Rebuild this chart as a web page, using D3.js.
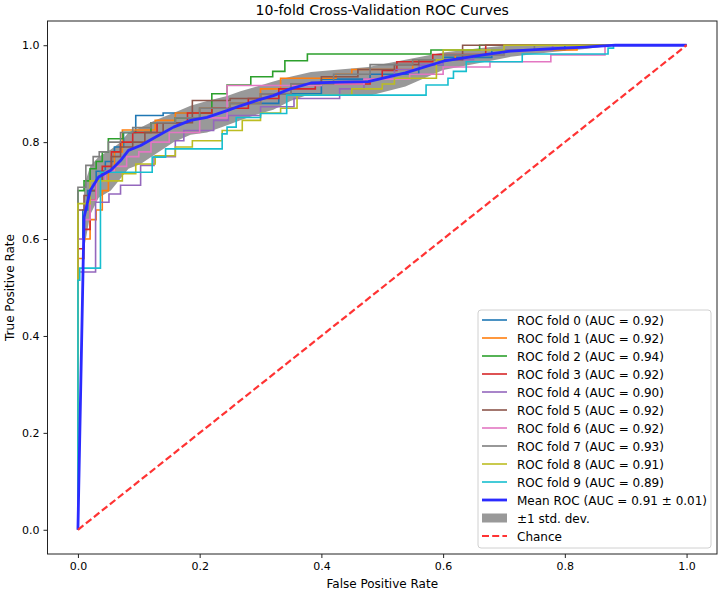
<!DOCTYPE html>
<html>
<head>
<meta charset="utf-8">
<script src="https://cdn.jsdelivr.net/npm/d3@7"></script>
<style>
body { margin: 0; background: #fff; }
svg text { font-family: "DejaVu Sans", sans-serif; fill: #000; }
.axis text { font-size: 11px; }
</style>
</head>
<body>
<svg class="roc" width="720" height="591"></svg>
<script>
// step points [fpr, tpr] for each fold
var fold0 = [[0,0],[0,0.60],[0.008,0.66],[0.016,0.70],[0.03,0.74],[0.045,0.76],[0.06,0.79],[0.075,0.82],[0.095,0.855],[0.14,0.86],[0.2,0.87],[0.25,0.88],[0.33,0.90],[0.40,0.93],[0.48,0.94],[0.56,0.96],[0.60,0.975],[0.68,0.99],[0.80,1.0],[1,1]];
var fold1 = [[0,0],[0,0.56],[0.01,0.60],[0.02,0.64],[0.03,0.66],[0.04,0.70],[0.05,0.74],[0.06,0.78],[0.073,0.825],[0.127,0.845],[0.16,0.86],[0.20,0.87],[0.25,0.88],[0.30,0.91],[0.333,0.932],[0.424,0.94],[0.45,0.95],[0.55,0.97],[0.62,0.98],[0.70,0.99],[0.82,1.0],[1,1]];
var fold2 = [[0,0],[0,0.70],[0.01,0.72],[0.02,0.745],[0.03,0.76],[0.04,0.78],[0.05,0.807],[0.074,0.82],[0.12,0.84],[0.16,0.85],[0.20,0.86],[0.22,0.90],[0.245,0.918],[0.284,0.935],[0.32,0.946],[0.34,0.968],[0.377,0.982],[0.58,0.99],[0.66,1.0],[1,1]];
var fold3 = [[0,0],[0,0.58],[0.01,0.62],[0.02,0.68],[0.03,0.72],[0.04,0.75],[0.055,0.78],[0.07,0.80],[0.09,0.82],[0.13,0.84],[0.18,0.86],[0.22,0.87],[0.28,0.89],[0.33,0.91],[0.39,0.92],[0.48,0.93],[0.50,0.948],[0.524,0.966],[0.583,0.981],[0.67,1.0],[1,1]];
var fold4 = [[0,0],[0,0.532],[0.029,0.676],[0.051,0.693],[0.07,0.711],[0.103,0.752],[0.125,0.77],[0.16,0.803],[0.174,0.824],[0.223,0.845],[0.247,0.855],[0.30,0.873],[0.355,0.89],[0.43,0.91],[0.47,0.93],[0.52,0.95],[0.56,0.96],[0.60,0.97],[0.65,0.98],[0.70,0.99],[0.78,1.0],[1,1]];
var fold5 = [[0,0],[0,0.66],[0.01,0.69],[0.02,0.70],[0.03,0.72],[0.04,0.74],[0.055,0.77],[0.07,0.79],[0.09,0.80],[0.11,0.82],[0.14,0.84],[0.188,0.886],[0.25,0.89],[0.30,0.90],[0.35,0.92],[0.40,0.935],[0.46,0.95],[0.52,0.96],[0.56,0.97],[0.632,1.0],[1,1]];
var fold6 = [[0,0],[0,0.60],[0.01,0.64],[0.02,0.68],[0.03,0.72],[0.045,0.74],[0.06,0.75],[0.08,0.77],[0.10,0.78],[0.12,0.80],[0.15,0.82],[0.20,0.85],[0.245,0.917],[0.40,0.92],[0.47,0.93],[0.545,0.94],[0.60,0.955],[0.677,0.966],[0.777,0.98],[0.866,1.0],[1,1]];
var fold7 = [[0,0],[0,0.707],[0.013,0.752],[0.025,0.77],[0.035,0.78],[0.05,0.80],[0.07,0.82],[0.09,0.83],[0.12,0.84],[0.16,0.85],[0.20,0.87],[0.25,0.88],[0.30,0.90],[0.35,0.92],[0.42,0.94],[0.48,0.96],[0.55,0.97],[0.60,0.98],[0.70,0.99],[0.75,1.0],[1,1]];
var fold8 = [[0,0],[0,0.673],[0.02,0.72],[0.073,0.735],[0.095,0.755],[0.127,0.772],[0.16,0.79],[0.188,0.803],[0.237,0.824],[0.27,0.845],[0.30,0.86],[0.333,0.87],[0.36,0.897],[0.45,0.91],[0.50,0.92],[0.52,0.932],[0.589,0.97],[0.60,0.99],[0.70,1.0],[1,1]];
var fold9 = [[0,0],[0,0.515],[0.003,0.54],[0.037,0.738],[0.122,0.769],[0.144,0.786],[0.237,0.817],[0.245,0.831],[0.26,0.851],[0.30,0.859],[0.343,0.897],[0.572,0.918],[0.608,0.932],[0.617,0.946],[0.638,0.966],[0.73,0.982],[0.871,0.994],[0.88,1.0],[1,1]];
var folds = [fold0, fold1, fold2, fold3, fold4, fold5, fold6, fold7, fold8, fold9];
var aucs = [0.92, 0.92, 0.94, 0.92, 0.90, 0.92, 0.92, 0.93, 0.91, 0.89];

// mean roc and +-1 std band
var meanFpr  = [0, 0.0101, 0.0202, 0.034, 0.054, 0.07, 0.083, 0.103, 0.127, 0.157, 0.185, 0.212, 0.245, 0.267, 0.294, 0.321, 0.349, 0.383, 0.43, 0.477, 0.538, 0.6, 0.666, 0.711, 0.78, 0.833, 0.883, 1];
var meanTpr  = [0, 0.645, 0.70, 0.728, 0.742, 0.762, 0.783, 0.793, 0.81, 0.831, 0.845, 0.851, 0.865, 0.875, 0.886, 0.896, 0.91, 0.922, 0.924, 0.925, 0.943, 0.967, 0.98, 0.988, 0.993, 0.996, 1.0, 1.0];
var stdUpper = [0, 0.71, 0.75, 0.77, 0.785, 0.80, 0.82, 0.83, 0.845, 0.86, 0.875, 0.885, 0.895, 0.905, 0.915, 0.925, 0.935, 0.945, 0.95, 0.955, 0.97, 0.985, 0.995, 1.0, 1.0, 1.0, 1.0, 1.0];
var stdLower = [0, 0.58, 0.65, 0.685, 0.70, 0.725, 0.745, 0.755, 0.775, 0.80, 0.815, 0.82, 0.835, 0.845, 0.857, 0.867, 0.885, 0.90, 0.898, 0.895, 0.915, 0.949, 0.965, 0.976, 0.986, 0.992, 1.0, 1.0];
var meanAuc = "0.91", stdAuc = "0.01";

var xTicks = [0, 0.2, 0.4, 0.6, 0.8, 1.0];
var yTicks = [0, 0.2, 0.4, 0.6, 0.8, 1.0];

var colors = d3.schemeCategory10;

var m = [21, 3, 37, 47.5],
  w = 720 - m[1] - m[3],
  h = 591 - m[0] - m[2];

var svg = d3.select(".roc");
var g = svg.append("g").attr("transform", "translate(" + m[3] + "," + m[0] + ")");

var x = d3.scaleLinear().domain([-0.05, 1.05]).range([0, w]);
var y = d3.scaleLinear().domain([-0.05, 1.05]).range([h, 0]);

var stepLine = d3.line()
  .x(function(d) { return x(d[0]); })
  .y(function(d) { return y(d[1]); })
  .curve(d3.curveStepAfter);

// band
var band = d3.area()
  .x(function(d, i) { return x(meanFpr[i]); })
  .y0(function(d, i) { return y(stdLower[i]); })
  .y1(function(d, i) { return y(stdUpper[i]); });
g.append("path").datum(meanFpr).attr("d", band).attr("fill", "#999").attr("stroke", "none");

g.selectAll(".fold")
  .data(folds)
  .enter().append("path")
  .attr("class", "fold")
  .attr("d", stepLine)
  .attr("fill", "none")
  .attr("stroke-width", 1.6)
  .attr("stroke", function(d, i) { return colors[i]; });

var meanLine = d3.line()
  .x(function(d, i) { return x(meanFpr[i]); })
  .y(function(d, i) { return y(meanTpr[i]); });
g.append("path").datum(meanTpr).attr("d", meanLine)
  .attr("fill", "none").attr("stroke", "#2b2bff").attr("stroke-width", 2.8)
  .attr("stroke-linejoin", "round");

// chance
g.append("line")
  .attr("x1", x(0)).attr("y1", y(0)).attr("x2", x(1)).attr("y2", y(1))
  .attr("stroke", "#ff3333").attr("stroke-width", 2.2)
  .attr("stroke-dasharray", "7,3.2");

// frame
g.append("rect").attr("width", w).attr("height", h)
  .attr("fill", "none").attr("stroke", "#222").attr("stroke-width", 1);

var fmt = d3.format(".1f");
var xa = g.append("g").attr("class", "axis").attr("transform", "translate(0," + h + ")")
  .call(d3.axisBottom(x).tickValues(xTicks).tickFormat(fmt).tickSize(4).tickPadding(4));
var ya = g.append("g").attr("class", "axis")
  .call(d3.axisLeft(y).tickValues(yTicks).tickFormat(fmt).tickSize(4).tickPadding(4));
g.selectAll(".axis .domain").remove();
g.selectAll(".axis text").attr("font-family", null);
g.selectAll(".axis line").attr("stroke", "#222");

svg.append("text").attr("x", m[3] + w / 2).attr("y", 15)
  .attr("text-anchor", "middle").style("font-size", "14px")
  .text("10-fold Cross-Validation ROC Curves");
svg.append("text").attr("x", m[3] + w / 2).attr("y", 588)
  .attr("text-anchor", "middle").style("font-size", "12px")
  .text("False Positive Rate");
svg.append("text").attr("transform", "translate(14," + (m[0] + h / 2) + ") rotate(-90)")
  .attr("text-anchor", "middle").style("font-size", "12px")
  .text("True Positive Rate");

// legend
var labels = aucs.map(function(a, i) { return "ROC fold " + i + " (AUC = " + a.toFixed(2) + ")"; });
labels.push("Mean ROC (AUC = " + meanAuc + " \u00b1 " + stdAuc + ")");
labels.push("\u00b11 std. dev.");
labels.push("Chance");

var lg = svg.append("g").attr("transform", "translate(478,310)");
lg.append("rect").attr("width", 233).attr("height", 238).attr("rx", 3)
  .attr("fill", "#fff").attr("fill-opacity", 0.85).attr("stroke", "#d0d0d0");
var item = lg.selectAll(".item").data(labels).enter().append("g")
  .attr("class", "item")
  .attr("transform", function(d, i) { return "translate(0," + (10 + i * 18) + ")"; });
item.append("text").attr("x", 39).attr("y", 4.5).style("font-size", "12px").text(String);
item.each(function(d, i) {
  var s = d3.select(this);
  if (i < 10) {
    s.append("line").attr("x1", 4).attr("x2", 29).attr("stroke", colors[i]).attr("stroke-width", 1.6);
  } else if (i == 10) {
    s.append("line").attr("x1", 4).attr("x2", 29).attr("stroke", "#2b2bff").attr("stroke-width", 2.8);
  } else if (i == 11) {
    s.append("rect").attr("x", 4).attr("y", -4.5).attr("width", 25).attr("height", 9).attr("fill", "#999");
  } else {
    s.append("line").attr("x1", 4).attr("x2", 29).attr("stroke", "#ff3333").attr("stroke-width", 2.2)
      .attr("stroke-dasharray", "7,3.2");
  }
});
</script>
</body>
</html>
